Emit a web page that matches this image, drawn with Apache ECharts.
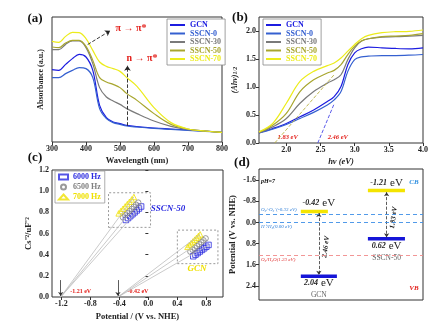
<!DOCTYPE html>
<html>
<head>
<meta charset="utf-8">
<script src="https://cdn.jsdelivr.net/npm/echarts@6/dist/echarts.min.js"></script>
<style>
html, body { margin: 0; padding: 0; background: #fff; }
#chart { width: 442px; height: 322px; }
</style>
</head>
<body>
<div id="chart"></div>
<script>
// ---- shared sample names / colours
const samples = ['GCN', 'SSCN-0', 'SSCN-30', 'SSCN-50', 'SSCN-70']
const sampleColors = ['#1c1ce0', '#3560d0', '#7a7a7a', '#a8a62e', '#ecec1c']

// ---- (a) UV-vis absorbance (a.u.)
const wavelength = [300, 320, 340, 360, 380, 400, 420, 440, 460, 480, 500, 520, 550, 600, 650, 700, 750, 800]
const absGCN = [0.579, 0.573, 0.621, 0.667, 0.701, 0.680, 0.573, 0.293, 0.195, 0.160, 0.147, 0.133, 0.123, 0.112, 0.104, 0.096, 0.088, 0.077]
const absSSCN0 = [0.515, 0.515, 0.547, 0.573, 0.595, 0.587, 0.515, 0.267, 0.187, 0.155, 0.141, 0.128, 0.120, 0.109, 0.101, 0.093, 0.085, 0.077]
const absSSCN30 = [0.739, 0.739, 0.781, 0.808, 0.808, 0.755, 0.627, 0.435, 0.360, 0.328, 0.301, 0.267, 0.227, 0.168, 0.125, 0.099, 0.088, 0.077]
const absSSCN50 = [0.760, 0.755, 0.792, 0.813, 0.813, 0.765, 0.653, 0.515, 0.480, 0.461, 0.435, 0.387, 0.333, 0.227, 0.141, 0.104, 0.088, 0.077]
const absSSCN70 = [0.805, 0.797, 0.845, 0.877, 0.875, 0.827, 0.733, 0.640, 0.605, 0.587, 0.565, 0.515, 0.445, 0.275, 0.155, 0.104, 0.088, 0.077]

// ---- (b) Tauc plot
const photonEnergy = [1.6, 1.8, 2.0, 2.2, 2.4, 2.6, 2.7, 2.8, 2.9, 3.0, 3.1, 3.2, 3.4, 3.6, 3.8, 4.0]
const taucGCN = [0.180, 0.258, 0.348, 0.468, 0.589, 0.739, 0.829, 1.009, 1.399, 1.610, 1.682, 1.712, 1.700, 1.688, 1.682, 1.700]
const taucSSCN0 = [0.180, 0.246, 0.330, 0.438, 0.547, 0.679, 0.769, 0.919, 1.279, 1.489, 1.538, 1.550, 1.562, 1.562, 1.568, 1.580]
const taucSSCN30 = [0.180, 0.288, 0.438, 0.709, 0.919, 1.069, 1.129, 1.219, 1.489, 1.700, 1.820, 1.862, 1.892, 1.898, 1.910, 1.922]
const taucSSCN50 = [0.192, 0.318, 0.529, 0.919, 1.129, 1.249, 1.297, 1.399, 1.580, 1.730, 1.820, 1.862, 1.898, 1.910, 1.922, 1.952]
const taucSSCN70 = [0.198, 0.348, 0.709, 1.099, 1.279, 1.381, 1.429, 1.519, 1.640, 1.760, 1.862, 1.922, 1.970, 1.988, 1.994, 2.018]
const energyTicks = [2.0, 2.5, 3.0, 3.5, 4.0]
const taucTicks = [0.0, 0.5, 1.0, 1.5, 2.0]
const bandGapOnsets = [2.46, 1.83]          // GCN, SSCN-50
const tangentEnds = [[2.70, 0.70], [2.70, 1.22]]

// ---- (c) Mott-Schottky
const frequencies = ['6000 Hz', '6500 Hz', '7000 Hz']
const freqColors = ['#2a2ae0', '#808080', '#efe000']
const freqSymbols = ['rect', 'circle', 'triangle']
const fbSamples = ['SSCN-50', 'GCN']
const flatBand = [-1.21, -0.42]
const msSSCN50x = [[-0.31, -0.28, -0.25, -0.22, -0.19, -0.16, -0.13, -0.10],
                   [-0.35, -0.32, -0.29, -0.26, -0.23, -0.20, -0.17, -0.14],
                   [-0.41, -0.38, -0.35, -0.32, -0.29, -0.26, -0.23, -0.20]]
const msSSCN50y = [[0.728, 0.746, 0.764, 0.782, 0.800, 0.818, 0.836, 0.855],
                   [0.752, 0.772, 0.792, 0.812, 0.832, 0.852, 0.872, 0.892],
                   [0.790, 0.812, 0.834, 0.856, 0.878, 0.900, 0.922, 0.945]]
const msGCNx = [[0.62, 0.65, 0.68, 0.71, 0.74, 0.77, 0.80, 0.83],
                [0.58, 0.61, 0.64, 0.67, 0.70, 0.73, 0.76, 0.79],
                [0.54, 0.565, 0.59, 0.615, 0.64, 0.665, 0.69, 0.715]]
const msGCNy = [[0.385, 0.400, 0.415, 0.430, 0.445, 0.460, 0.475, 0.492],
                [0.428, 0.446, 0.464, 0.482, 0.500, 0.518, 0.536, 0.554],
                [0.474, 0.491, 0.508, 0.525, 0.542, 0.559, 0.576, 0.592]]
const potentialTicks = [-1.2, -0.8, -0.4, 0.0, 0.4, 0.8]
const csTicks = [0.0, 0.2, 0.4, 0.6, 0.8, 1.0, 1.2]

// ---- (d) band structure
const bandSamples = ['GCN', 'SSCN-50']
const cbLevels = [-0.42, -1.21]
const vbLevels = [2.04, 0.62]
const bandGaps = [2.46, 1.83]
const refPotentials = [-0.33, 0.00, 1.23]
const refNames = ['O\u2082/\u00b7O\u2082\u207b(-0.33 eV)', 'H\u207a/H\u2082(0.00 eV)', 'O\u2082/H\u2082O(1.23 eV)']
const bandTicks = [-1.6, -0.8, 0.0, 0.8, 1.6, 2.4]

const serif = 'Liberation Serif'
const tickFont = { fontFamily: serif, fontWeight: 'bold', fontSize: 8, color: '#222' }
const frame = { show: true, borderColor: '#333', borderWidth: 1 }

let chart = echarts.init(document.getElementById('chart'))

function axisBase(extra) {
    return Object.assign({
        axisLine: { show: false },
        axisTick: { show: true, length: 3, lineStyle: { color: '#333' } },
        splitLine: { show: false },
        axisLabel: Object.assign({ margin: 3 }, tickFont),
        nameTextStyle: { fontFamily: serif, fontWeight: 'bold', fontSize: 8.5, color: '#222' },
        nameLocation: 'middle'
    }, extra)
}

const absData = [absGCN, absSSCN0, absSSCN30, absSSCN50, absSSCN70]
const taucData = [taucGCN, taucSSCN0, taucSSCN30, taucSSCN50, taucSSCN70]

let series = []

// (a)
samples.forEach((name, i) => {
    series.push({
        type: 'line', name, xAxisIndex: 0, yAxisIndex: 0,
        data: wavelength.map((w, j) => [w, absData[i][j]]),
        showSymbol: false, smooth: 0.35,
        lineStyle: { width: 1.2, color: sampleColors[i] },
        itemStyle: { color: sampleColors[i] }
    })
})
series[4].markLine = {
    silent: true, symbol: ['none', 'arrow'], symbolSize: 5,
    label: { show: false },
    lineStyle: { type: 'dashed', color: '#222', width: 0.9 },
    data: [
        [{ coord: [405, 0.78] }, { coord: [471, 0.89] }],
        [{ coord: [522, 0.13] }, { coord: [522, 0.61] }]
    ]
}

// (b)
samples.forEach((name, i) => {
    series.push({
        type: 'line', name, xAxisIndex: 1, yAxisIndex: 1,
        data: photonEnergy.map((e, j) => [e, taucData[i][j]]),
        showSymbol: false, smooth: 0.35,
        lineStyle: { width: 1.2, color: sampleColors[i] },
        itemStyle: { color: sampleColors[i] }
    })
})
series.push({
    type: 'line', xAxisIndex: 1, yAxisIndex: 1, data: [], silent: true,
    markLine: {
        silent: true, symbol: 'none', label: { show: false },
        data: bandGapOnsets.map((e, i) => [
            { coord: [e, 0], lineStyle: { type: 'dashed', width: 0.9, color: i === 0 ? '#4a4ae8' : '#b8b040' } },
            { coord: tangentEnds[i] }
        ])
    }
})

// (c) fitted lines first, markers on top
const msX = [msSSCN50x, msGCNx]
const msY = [msSSCN50y, msGCNy]
fbSamples.forEach((s, k) => {
    frequencies.forEach((f, i) => {
        let last = msX[k][i].length - 1
        series.push({
            type: 'line', xAxisIndex: 2, yAxisIndex: 2, silent: true,
            data: [[flatBand[k], 0], [msX[k][i][last], msY[k][i][last]]],
            showSymbol: false, lineStyle: { width: 0.8, color: '#bdbdbd' }
        })
    })
    series.push({
        type: 'line', xAxisIndex: 2, yAxisIndex: 2, data: [], silent: true,
        markLine: {
            silent: true, symbol: ['none', 'arrow'], symbolSize: 4, label: { show: false },
            lineStyle: { type: 'solid', color: '#333', width: 0.8 },
            data: [[{ coord: [flatBand[k], 0.16] }, { coord: [flatBand[k], 0.01] }]]
        },
        markArea: {
            silent: true,
            itemStyle: { color: 'rgba(0,0,0,0)', borderColor: '#999', borderWidth: 1, borderType: [2, 2] },
            data: [[
                { coord: [Math.min(...msX[k].flat()) - 0.14, Math.min(...msY[k].flat()) - 0.07] },
                { coord: [Math.max(...msX[k].flat()) + 0.13, Math.max(...msY[k].flat()) + 0.04] }
            ]]
        }
    })
})
fbSamples.forEach((s, k) => {
    frequencies.forEach((f, i) => {
        series.push({
            type: 'scatter', name: f, xAxisIndex: 2, yAxisIndex: 2,
            data: msX[k][i].map((x, j) => [x, msY[k][i][j]]),
            symbol: freqSymbols[i], symbolSize: 5.5,
            itemStyle: { color: 'rgba(255,255,255,0)', borderColor: freqColors[i], borderWidth: 1 }
        })
    })
})

// (d)
const bandX = [[2.55, 4.2, 4.75, 3.65], [6.64, 8.9, 8.9, 7.78]]   // start, cb end, vb end, arrow x
bandSamples.forEach((s, k) => {
    series.push({
        type: 'line', xAxisIndex: 3, yAxisIndex: 3, silent: true, showSymbol: false,
        data: [[bandX[k][0], cbLevels[k]], [bandX[k][1], cbLevels[k]]],
        lineStyle: { width: 3.5, color: '#f4e400' }
    })
    series.push({
        type: 'line', xAxisIndex: 3, yAxisIndex: 3, silent: true, showSymbol: false,
        data: [[bandX[k][0], vbLevels[k]], [bandX[k][2], vbLevels[k]]],
        lineStyle: { width: 3.5, color: '#1515d8' },
        markLine: {
            silent: true, symbol: ['arrow', 'arrow'], symbolSize: 4, label: { show: false },
            lineStyle: { type: 'dashed', color: '#333', width: 0.8 },
            data: [[{ coord: [bandX[k][3], cbLevels[k] + 0.06] }, { coord: [bandX[k][3], vbLevels[k] - 0.06] }]]
        }
    })
})
series.push({
    type: 'line', xAxisIndex: 3, yAxisIndex: 3, data: [[0, 0]], showSymbol: false, lineStyle: { width: 0 }, silent: true, z: 1,
    markLine: {
        silent: true, symbol: 'none',
        data: refPotentials.map((p, i) => ({
            yAxis: p,
            lineStyle: { type: [4, 3], width: 0.9, color: p > 1 ? '#f08a8a' : '#3d8fe6' },
            label: {
                show: true, formatter: refNames[i],
                position: i === 0 ? 'insideStartTop' : 'insideStartBottom',
                distance: [2, 2],
                fontFamily: serif, fontSize: 5, fontStyle: 'italic',
                color: p > 1 ? '#e03030' : '#2f7fd8'
            }
        }))
    }
})

let option = {
    animation: false,
    backgroundColor: '#fff',
    grid: [
        Object.assign({ left: 52, top: 17, width: 170, height: 125 }, frame),
        Object.assign({ left: 259, top: 17, width: 164, height: 126 }, frame),
        Object.assign({ left: 52, top: 170, width: 171, height: 127 }, frame),
        Object.assign({ left: 259, top: 169, width: 164, height: 131 }, frame)
    ],
    xAxis: [
        axisBase({ gridIndex: 0, type: 'value', min: 300, max: 800, interval: 100,
            name: 'Wavelength (nm)', nameGap: 14 }),
        axisBase({ gridIndex: 1, type: 'value', min: 1.6, max: 4.0,
            axisLabel: Object.assign({ margin: 3, customValues: energyTicks, formatter: v => v.toFixed(1) }, tickFont),
            axisTick: { show: true, length: 3, customValues: energyTicks, lineStyle: { color: '#333' } },
            name: 'h\u03bd (eV)', nameGap: 14,
            nameTextStyle: { fontFamily: serif, fontWeight: 'bold', fontStyle: 'italic', fontSize: 8.5, color: '#222' } }),
        axisBase({ gridIndex: 2, type: 'value', min: -1.33, max: 1.03,
            axisLabel: Object.assign({ margin: 3, customValues: potentialTicks, formatter: v => v.toFixed(1) }, tickFont),
            axisTick: { show: true, length: 3, customValues: potentialTicks, lineStyle: { color: '#333' } },
            name: 'Potential / (V vs. NHE)', nameGap: 15 }),
        axisBase({ gridIndex: 3, type: 'value', min: 0, max: 10,
            axisLabel: { show: false }, axisTick: { show: false } })
    ],
    yAxis: [
        axisBase({ gridIndex: 0, type: 'value', min: 0, max: 1,
            axisLabel: { show: false }, axisTick: { show: false },
            name: 'Absorbance (a.u.)', nameGap: 7, nameTextStyle: { fontFamily: serif, fontWeight: 'bold', fontSize: 8, color: '#222' } }),
        axisBase({ gridIndex: 1, type: 'value', min: 0, max: 2.25,
            axisLabel: Object.assign({ margin: 3, customValues: taucTicks, formatter: v => v.toFixed(1) }, tickFont),
            axisTick: { show: true, length: 3, customValues: taucTicks, lineStyle: { color: '#333' } },
            name: '(Ah\u03bd){s|1/2}', nameGap: 20,
            nameTextStyle: { fontFamily: serif, fontWeight: 'bold', fontStyle: 'italic', fontSize: 8, color: '#222',
                rich: { s: { fontFamily: serif, fontWeight: 'bold', fontStyle: 'italic', fontSize: 6, color: '#222' } } } }),
        axisBase({ gridIndex: 2, type: 'value', min: 0, max: 1.2,
            axisLabel: Object.assign({ margin: 3, customValues: csTicks, formatter: v => v.toFixed(1) }, tickFont),
            axisTick: { show: true, length: 3, customValues: csTicks, lineStyle: { color: '#333' } },
            name: 'Cs\u207b\u00b2/uF\u207b\u00b2', nameGap: 19 }),
        axisBase({ gridIndex: 3, type: 'value', min: -2.03, max: 2.94, inverse: true,
            axisLabel: Object.assign({ margin: 3, customValues: bandTicks, formatter: v => v.toFixed(1) }, tickFont),
            axisTick: { show: true, length: 3, customValues: bandTicks, lineStyle: { color: '#333' } },
            name: 'Potential (V vs. NHE)', nameGap: 22 })
    ],
    legend: [
        {
            left: 167, top: 19, orient: 'vertical', itemGap: 0.5, itemWidth: 15, itemHeight: 2, icon: 'rect',
            padding: [2, 4, 2, 3], borderColor: '#888', borderWidth: 0.8, backgroundColor: '#fff',
            selectedMode: false,
            textStyle: { fontFamily: serif, fontWeight: 'bold', fontSize: 8, padding: [1, 0, 0, 0] },
            data: samples.map((n, i) => ({ name: n, textStyle: { color: sampleColors[i] } }))
        },
        {
            left: 263, top: 19, orient: 'vertical', itemGap: 0.5, itemWidth: 15, itemHeight: 2, icon: 'rect',
            padding: [2, 4, 2, 3], borderColor: '#888', borderWidth: 0.8, backgroundColor: '#fff',
            selectedMode: false,
            textStyle: { fontFamily: serif, fontWeight: 'bold', fontSize: 8, padding: [1, 0, 0, 0] },
            data: samples.map((n, i) => ({ name: n, textStyle: { color: sampleColors[i] } }))
        },
        {
            left: 55, top: 171, orient: 'vertical', itemGap: 2, itemWidth: 9, itemHeight: 5,
            padding: [2, 4, 2, 3], borderColor: '#999', borderWidth: 0.8, backgroundColor: '#fff',
            selectedMode: false,
            textStyle: { fontFamily: serif, fontWeight: 'bold', fontSize: 8 },
            data: frequencies.map((n, i) => ({ name: n, textStyle: { color: freqColors[i] } }))
        }
    ],
    series
}
chart.setOption(option)

// ---- annotation texts
function txt(x, y, text, style, extra) {
    return Object.assign({
        type: 'text', x, y, silent: true,
        style: Object.assign({ text, fontFamily: serif, fontWeight: 'bold', fill: '#111', align: 'center', verticalAlign: 'middle' }, style)
    }, extra || {})
}
const red = '#e3201b'
let graphics = [
    txt(35, 19, '(a)', { fontSize: 13 }),
    txt(240, 18, '(b)', { fontSize: 13 }),
    txt(35, 158, '(c)', { fontSize: 13 }),
    txt(242, 163, '(d)', { fontSize: 13 }),
    txt(131, 28, '\u03c0 \u2192 \u03c0*', { fontSize: 10, fill: red }),
    txt(142, 58, 'n \u2192 \u03c0*', { fontSize: 10, fill: red }),
    txt(168, 209, fbSamples[0], { fontSize: 9, fontStyle: 'italic', fill: '#2a2ae0' }),
    txt(197, 269, fbSamples[1], { fontSize: 9, fontStyle: 'italic', fill: '#efe000' }),
    txt(268, 181, 'pH=7', { fontSize: 6, fontStyle: 'italic' }),
    txt(414, 182, 'CB', { fontSize: 7, fontStyle: 'italic', fill: '#2f8fe0' }),
    txt(414, 288, 'VB', { fontSize: 7, fontStyle: 'italic', fill: red })
]
bandGapOnsets.forEach((e, i) => {
    let p = chart.convertToPixel({ gridIndex: 1 }, [e, 0])
    graphics.push(txt(p[0] + (i === 0 ? 20 : 13), 137, e.toFixed(2) + ' eV', { fontSize: 6.5, fontStyle: 'italic', fill: red }))
})
flatBand.forEach((v, k) => {
    let p = chart.convertToPixel({ gridIndex: 2 }, [v, 0])
    graphics.push(txt(p[0] + 20, 291, v.toFixed(2) + ' eV', { fontSize: 6, fill: red }))
})
const bandRich = {
    v: { fontFamily: serif, fontWeight: 'bold', fontStyle: 'italic', fontSize: 8, fill: '#222' },
    u: { fontFamily: serif, fontSize: 11, fill: '#222' }
}
bandSamples.forEach((s, k) => {
    let cb = chart.convertToPixel({ gridIndex: 3 }, [bandX[k][3], cbLevels[k]])
    let vb = chart.convertToPixel({ gridIndex: 3 }, [bandX[k][3], vbLevels[k]])
    graphics.push(txt(cb[0], cb[1] - 8, '{v|' + cbLevels[k].toFixed(2) + '} {u|eV}', { rich: bandRich }))
    graphics.push(txt(vb[0], vb[1] + 7, '{v|' + vbLevels[k].toFixed(2) + '} {u|eV}', { rich: bandRich }))
    graphics.push(txt(vb[0], vb[1] + 19, s, { fontSize: 7.5, fontWeight: 'normal', fill: '#666' }))
    graphics.push(txt(cb[0] + 7, (cb[1] + vb[1]) / 2 + 3, bandGaps[k].toFixed(2) + ' eV',
        { fontSize: 7, fontStyle: 'italic' }, { rotation: Math.PI / 2 - 0.12 }))
})
chart.setOption({ graphic: graphics })
</script>
</body>
</html>
